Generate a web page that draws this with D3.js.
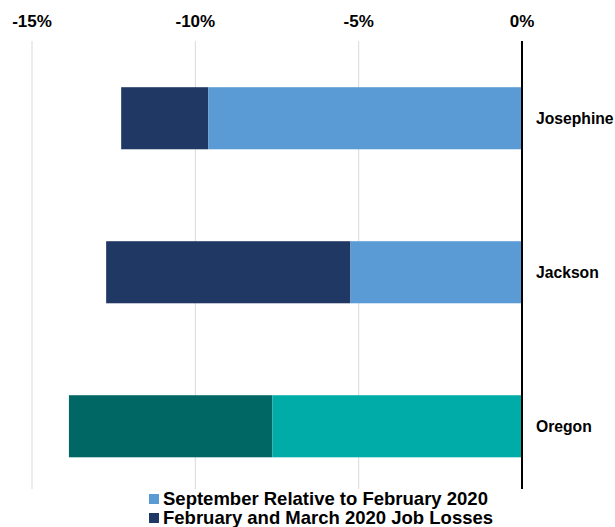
<!DOCTYPE html>
<html>
<head>
<meta charset="utf-8">
<script src="https://cdn.jsdelivr.net/npm/d3@7"></script>
<style>
  body { margin: 0; background: #fff; }
  svg { font-family: "Liberation Sans", Arial, sans-serif; }
</style>
</head>
<body>
<div id="chart"></div>
<script>
// Frame size
const FRAME_WIDTH = 615;
const FRAME_HEIGHT = 527;
const MARGINS = {left: 32, right: 93, top: 41, bottom: 38};

// Data
const regions = ["Josephine", "Jackson", "Oregon"];
const septRelative = [-9.6, -5.25, -7.64];     // September relative to Feb 2020
const febMarLosses = [-12.27, -12.73, -13.87];  // Feb and March 2020 job losses
const tickValues = [-15, -10, -5, 0];
const legendLabels = ["September Relative to February 2020", "February and March 2020 Job Losses"];

// Colours: Oregon uses a teal pair
const lightColor = {"Josephine": "#5b9bd5", "Jackson": "#5b9bd5", "Oregon": "#00aca8"};
const darkColor = {"Josephine": "#203864", "Jackson": "#203864", "Oregon": "#006764"};

const FRAME = d3.select("#chart")
  .append("svg")
    .attr("width", FRAME_WIDTH)
    .attr("height", FRAME_HEIGHT);

const X_SCALE = d3.scaleLinear()
  .domain([-15, 0])
  .range([MARGINS.left, FRAME_WIDTH - MARGINS.right]);

// band range runs a bit past the gridlines so bars sit where the original has them
const Y_SCALE = d3.scaleBand()
  .domain(regions)
  .range([MARGINS.top, 503.5])
  .paddingInner(0.597)
  .paddingOuter(0.3);

// Gridlines
FRAME.append("g")
  .selectAll("line")
  .data(tickValues.filter(d => d !== 0))
  .enter()
  .append("line")
    .attr("x1", d => X_SCALE(d))
    .attr("x2", d => X_SCALE(d))
    .attr("y1", MARGINS.top)
    .attr("y2", FRAME_HEIGHT - MARGINS.bottom)
    .attr("stroke", "#d9d9d9")
    .attr("stroke-width", 1);

// Tick labels on top
FRAME.append("g")
  .selectAll("text")
  .data(tickValues)
  .enter()
  .append("text")
    .attr("x", d => X_SCALE(d))
    .attr("y", 27)
    .attr("text-anchor", "middle")
    .attr("font-size", "17px")
    .attr("font-weight", "bold")
    .text(d => d + "%");

const rows = regions.map((r, i) => ({region: r, sept: septRelative[i], loss: febMarLosses[i]}));

// Dark bars: loss to sept value
FRAME.append("g")
  .selectAll("rect")
  .data(rows)
  .enter()
  .append("rect")
    .attr("x", d => X_SCALE(d.loss))
    .attr("y", d => Y_SCALE(d.region))
    .attr("width", d => X_SCALE(d.sept) - X_SCALE(d.loss))
    .attr("height", Y_SCALE.bandwidth())
    .attr("fill", d => darkColor[d.region]);

// Light bars: sept value to zero
FRAME.append("g")
  .selectAll("rect")
  .data(rows)
  .enter()
  .append("rect")
    .attr("x", d => X_SCALE(d.sept))
    .attr("y", d => Y_SCALE(d.region))
    .attr("width", d => X_SCALE(0) - X_SCALE(d.sept))
    .attr("height", Y_SCALE.bandwidth())
    .attr("fill", d => lightColor[d.region]);

// Zero line
FRAME.append("line")
  .attr("x1", X_SCALE(0))
  .attr("x2", X_SCALE(0))
  .attr("y1", MARGINS.top)
  .attr("y2", FRAME_HEIGHT - MARGINS.bottom)
  .attr("stroke", "#000")
  .attr("stroke-width", 2);

// Region labels
FRAME.append("g")
  .selectAll("text")
  .data(regions)
  .enter()
  .append("text")
    .attr("x", X_SCALE(0) + 14)
    .attr("y", d => Y_SCALE(d) + Y_SCALE.bandwidth() / 2)
    .attr("dy", "0.35em")
    .attr("font-size", "15.7px")
    .attr("font-weight", "bold")
    .text(d => d);

// Legend
const legend = FRAME.append("g")
  .selectAll("g")
  .data(legendLabels)
  .enter()
  .append("g")
    .attr("transform", (d, i) => "translate(149," + (494 + i * 19) + ")");

legend.append("rect")
  .attr("width", 10)
  .attr("height", 10)
  .attr("fill", (d, i) => i === 0 ? "#5b9bd5" : "#203864");

legend.append("text")
  .attr("x", 14)
  .attr("y", 11)
  .attr("font-size", "18.5px")
  .attr("font-weight", "bold")
  .text(d => d);
</script>
</body>
</html>
